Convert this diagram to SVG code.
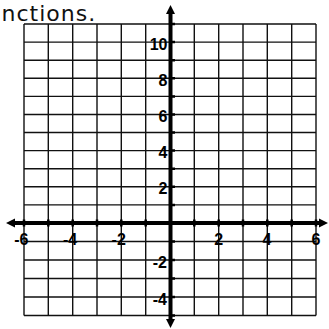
<svg xmlns="http://www.w3.org/2000/svg" width="329" height="329" viewBox="0 0 329 329">
<style>
.g{stroke:#111;stroke-width:1.4;fill:none}
.ax{stroke:#000;stroke-width:4;fill:none}
.tk{stroke:#000;stroke-width:2.5}
.lb{font-family:"Liberation Sans",Arial,sans-serif;font-weight:bold;font-size:16px;fill:#000}
.hd{font-family:"DejaVu Sans",sans-serif;font-size:22px;letter-spacing:1px;fill:#111}
</style>
<rect width="329" height="329" fill="#fff"/>
<text class="hd" x="1.5" y="20.5">nctions.</text>
<g id="grid">
<path class="g" d="M24,24V315.5M48.3,24V315.5M72.7,24V315.5M97,24V315.5M121.3,24V315.5M145.7,24V315.5M194.3,24V315.5M218.7,24V315.5M243,24V315.5M267.3,24V315.5M291.7,24V315.5M316,24V315.5"/>
<path class="g" d="M24,24H316M24,42.1H316M24,60.2H316M24,78.3H316M24,96.4H316M24,114.5H316M24,132.5H316M24,150.6H316M24,168.7H316M24,186.8H316M24,204.9H316M24,241.5H316M24,260H316M24,278.5H316M24,297H316M24,315.5H316"/>
</g>
<g id="axes">
<path class="ax" d="M13,223H321"/>
<path class="ax" d="M170.5,13V321"/>
<polygon points="6,223 15,218.5 15,227.5" fill="#000"/>
<polygon points="328,223 319,218.5 319,227.5" fill="#000"/>
<polygon points="170.5,5 166,14 175,14" fill="#000"/>
<polygon points="170.5,328 166,319 175,319" fill="#000"/>
</g>
<g id="ticks">
<path class="tk" d="M24,219.5V226.5M48.3,219.5V226.5M72.7,219.5V226.5M97,219.5V226.5M121.3,219.5V226.5M145.7,219.5V226.5M194.3,219.5V226.5M218.7,219.5V226.5M243,219.5V226.5M267.3,219.5V226.5M291.7,219.5V226.5M316,219.5V226.5"/>
<path class="tk" d="M170,24H175M170,42.1H175M170,60.2H175M170,78.3H175M170,96.4H175M170,114.5H175M170,132.5H175M170,150.6H175M170,168.7H175M170,186.8H175M170,204.9H175M170,241.5H175M170,260H175M170,278.5H175M170,297H175M170,315.5H175"/>
</g>
<g id="labels">
<g text-anchor="end">
<text class="lb" x="167.5" y="49.5">10</text>
<text class="lb" x="167.5" y="85.5">8</text>
<text class="lb" x="167.5" y="121.5">6</text>
<text class="lb" x="167.5" y="157.5">4</text>
<text class="lb" x="167.5" y="193.5">2</text>
<text class="lb" x="167" y="267.5">-2</text>
<text class="lb" x="167" y="304.5">-4</text>
<text class="lb" x="28.5" y="245">-6</text>
<text class="lb" x="77.2" y="245">-4</text>
<text class="lb" x="125.8" y="245">-2</text>
</g>
<g text-anchor="middle">
<text class="lb" x="218.7" y="245">2</text>
<text class="lb" x="267" y="245">4</text>
<text class="lb" x="316" y="245">6</text>
</g>
</g>
</svg>
